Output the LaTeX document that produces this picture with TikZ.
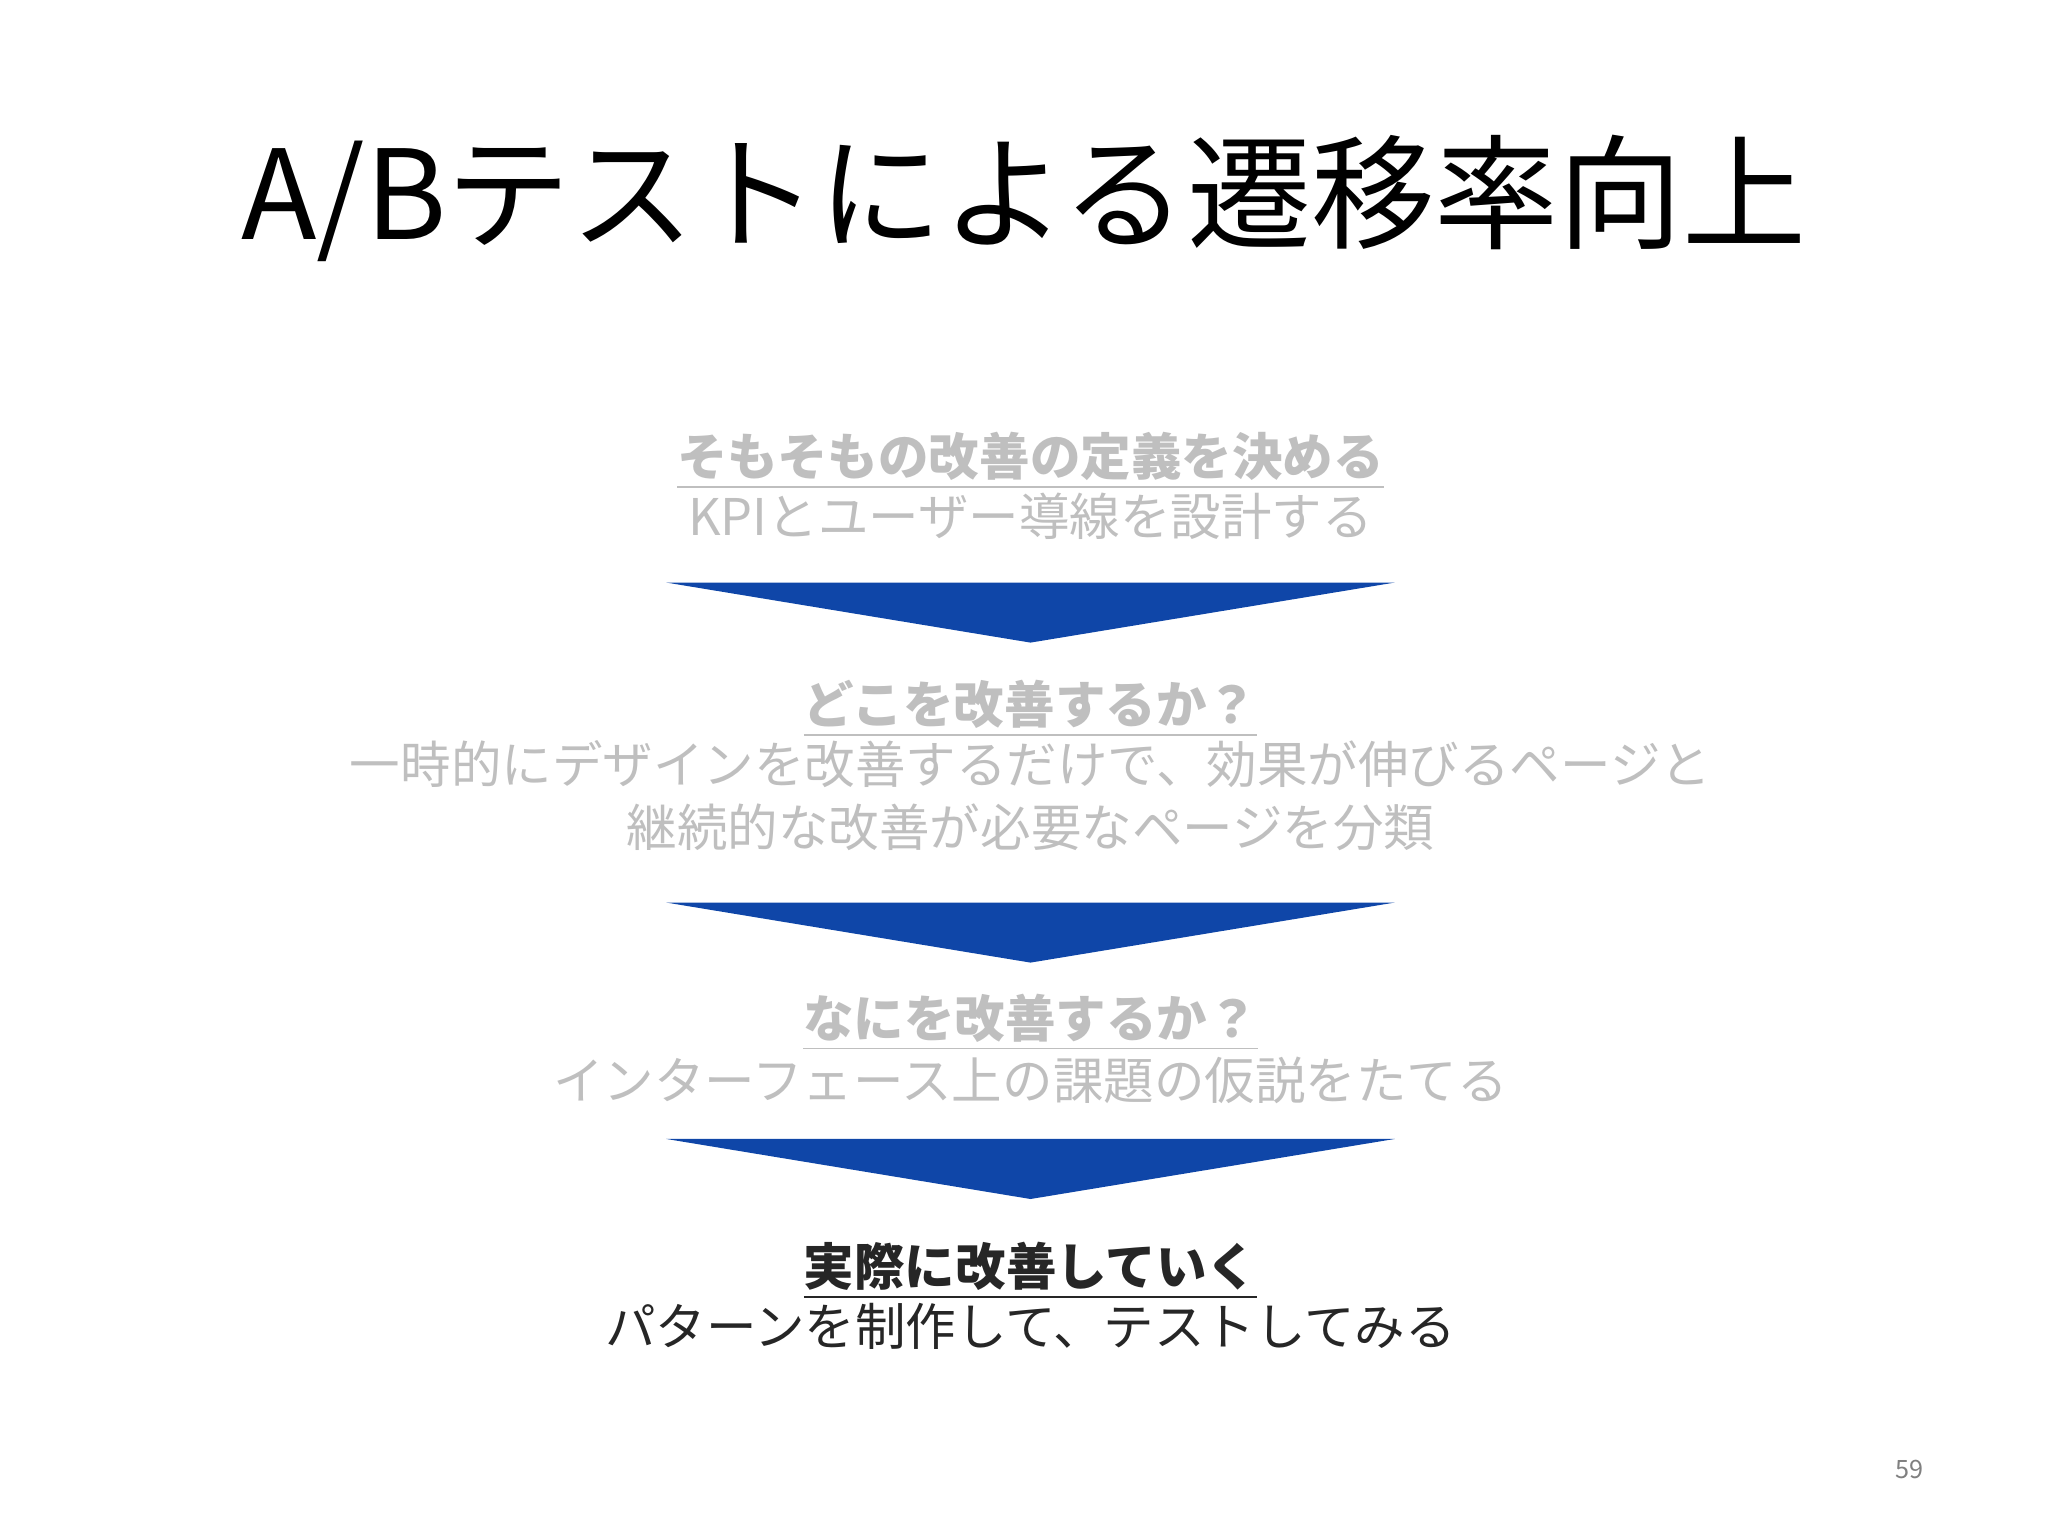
\documentclass[tikz,border=0pt]{standalone}
\usepackage{fontspec}
\setmainfont{Noto Sans CJK JP}
\newfontfamily\jpbold{Noto Sans CJK JP Bold}
\definecolor{lg}{HTML}{BFBFBF}
\definecolor{ab}{HTML}{0F46A8}
\definecolor{dk}{HTML}{262626}
\begin{document}
\begin{tikzpicture}[x=0.01cm,y=-0.01cm,
  hd/.style={anchor=base,inner sep=0,font=\fontsize{11}{13}\selectfont\bfseries},
  bd/.style={anchor=base,inner sep=0,font=\fontsize{11}{13}\selectfont},
  arr/.style={fill=ab,draw=none}]
\useasboundingbox (0,0) rectangle (1568,1176);
\node[anchor=base,inner sep=0,font=\fontsize{27}{30}\selectfont] (title) at (784,183) {A/Bテストによる遷移率向上};
\node[hd,text=lg] (h1) at (789,364) {\underline{そもそもの改善の定義を決める}};
\node[bd,text=lg] (b1) at (789,410) {KPIとユーザー導線を設計する};
\fill[arr] (510,446) -- (1068,446) -- (789,492) -- cycle;
\node[hd,text=lg] (h2) at (789,554) {\underline{どこを改善するか？}};
\node[bd,text=lg] (b2) at (789,600) {一時的にデザインを改善するだけで、効果が伸びるページと};
\node[bd,text=lg] (b3) at (789,648) {継続的な改善が必要なページを分類};
\fill[arr] (510,691) -- (1068,691) -- (789,737) -- cycle;
\node[hd,text=lg] (h3) at (789,794) {\underline{なにを改善するか？}};
\node[bd,text=lg] (b4) at (789,842) {インターフェース上の課題の仮説をたてる};
\fill[arr] (510,872) -- (1068,872) -- (789,918) -- cycle;
\node[hd,text=dk] (h4) at (789,984) {\underline{実際に改善していく}};
\node[bd,text=dk] (b5) at (789,1030) {パターンを制作して、テストしてみる};
\node[anchor=base,inner sep=0,text=gray,font=\fontsize{5.5}{6}\selectfont] (pg) at (1462,1132) {59};
\end{tikzpicture}
\end{document}
